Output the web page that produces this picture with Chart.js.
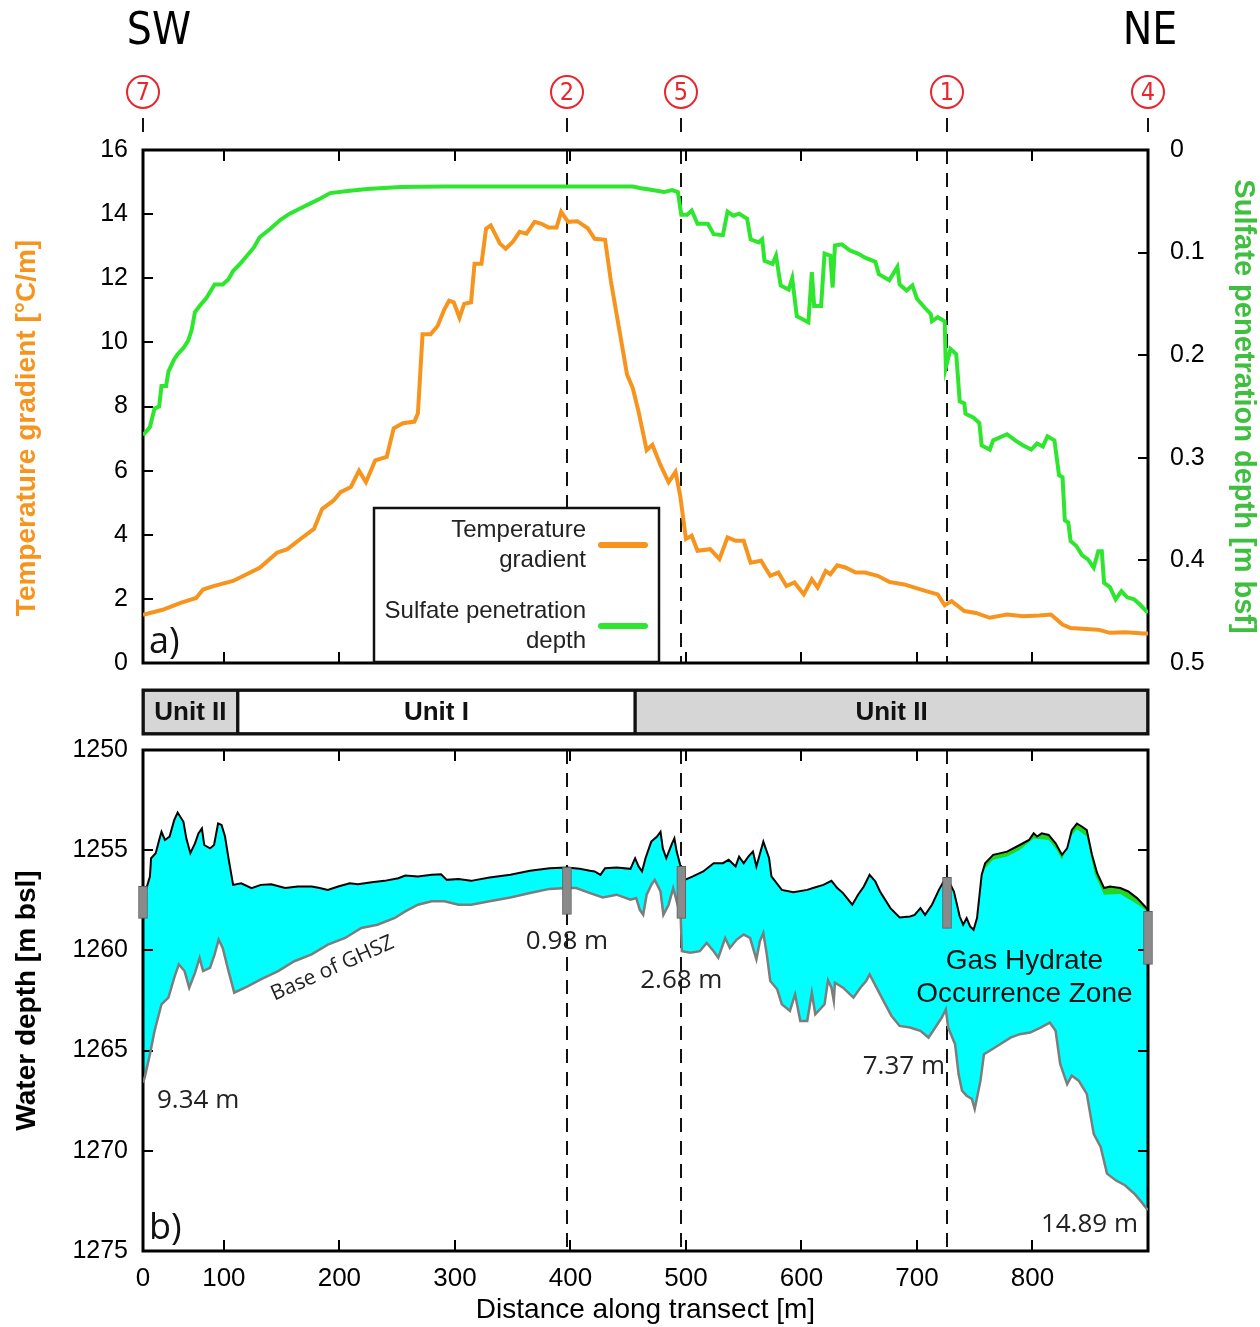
<!DOCTYPE html>
<html lang="en">
<head>
<meta charset="UTF-8">
<title>Transect profile</title>
<script src="https://cdn.jsdelivr.net/npm/chart.js"></script>
<style>
    body { margin: 0; background: #fff; }
    #wrap { position: relative; width: 1260px; height: 1327px; }
    #wrap canvas { position: absolute; left: 0; }
</style>
</head>
<body>
<div id="wrap">
    <canvas id="topChart" width="1260" height="700" style="top:0"></canvas>
    <canvas id="unitChart" width="1260" height="55" style="top:685px"></canvas>
    <canvas id="depthChart" width="1260" height="607" style="top:720px"></canvas>
</div>
<script>
// ---- data ----
// x axis: the left frame edge sits at ~30 m but is labelled "0" in the original
var xTickValues = [30, 100, 200, 300, 400, 500, 600, 700, 800];
var xTickLabels = ['0', '100', '200', '300', '400', '500', '600', '700', '800'];

var siteNames = ['7', '2', '5', '1', '4'];
var siteDistance = [30, 397, 496, 726, 900];
var coreTop = [1256.8, 1255.85, 1255.8, 1256.35, 1258.05];
var coreBottom = [1258.4, 1258.2, 1258.4, 1258.9, 1260.7];
var ghszThickness = [9.34, 0.98, 2.68, 7.37, 14.89];

var tempDist = [30, 47, 62, 76, 82, 91, 108, 131, 146, 155, 166, 178, 185, 195, 201, 210, 217, 223, 231, 241, 247, 255, 265, 268, 272, 279, 285, 291, 295, 299, 304, 308, 314, 317, 323, 327, 331, 339, 344, 350, 356, 362, 369, 375, 381, 388, 392, 398, 406, 415, 421, 430, 435, 442, 449, 454, 459, 466, 471, 478, 485, 491, 495, 500, 505, 510, 521, 529, 536, 543, 550, 556, 565, 573, 580, 587, 594, 602, 609, 614, 621, 625, 631, 638, 647, 655, 666, 676, 689, 698, 708, 718, 724, 730, 741, 751, 763, 778, 792, 806, 816, 826, 833, 846, 857, 867, 881, 896, 900];
var tempGrad = [1.50, 1.66, 1.87, 2.03, 2.29, 2.40, 2.56, 2.97, 3.44, 3.55, 3.86, 4.18, 4.80, 5.07, 5.33, 5.49, 6.00, 5.64, 6.32, 6.43, 7.32, 7.48, 7.53, 7.79, 10.25, 10.25, 10.51, 11.04, 11.30, 11.25, 10.77, 11.20, 11.25, 12.45, 12.45, 13.55, 13.65, 13.08, 12.92, 13.13, 13.45, 13.39, 13.76, 13.70, 13.58, 13.58, 14.07, 13.76, 13.78, 13.56, 13.23, 13.20, 11.92, 10.46, 9.00, 8.57, 7.84, 6.64, 6.80, 6.17, 5.64, 5.96, 5.23, 3.87, 3.97, 3.50, 3.55, 3.24, 3.92, 3.81, 3.81, 3.13, 3.19, 2.72, 2.82, 2.40, 2.51, 2.14, 2.61, 2.35, 2.87, 2.77, 3.05, 2.98, 2.82, 2.82, 2.72, 2.53, 2.45, 2.35, 2.24, 2.14, 1.80, 1.93, 1.62, 1.56, 1.41, 1.51, 1.46, 1.48, 1.51, 1.20, 1.09, 1.06, 1.04, 0.94, 0.96, 0.92, 0.92];

var sulfDist = [30, 36, 40, 44, 46, 50, 52, 57, 60, 65, 69, 72, 75, 79, 85, 92, 99, 104, 108, 114, 120, 126, 131, 140, 149, 157, 166, 175, 184, 192, 207, 224, 253, 290, 454, 460, 471, 481, 488, 493, 496, 501, 505, 510, 519, 524, 532, 536, 541, 546, 553, 556, 563, 566, 568, 575, 578, 582, 589, 592, 596, 601, 606, 609, 611, 617, 620, 625, 627, 629, 635, 642, 649, 655, 664, 667, 676, 683, 685, 691, 696, 700, 707, 712, 713, 718, 724, 725, 729, 734, 737, 741, 742, 749, 754, 756, 763, 766, 778, 785, 792, 799, 804, 809, 813, 819, 823, 826, 828, 831, 833, 838, 843, 848, 853, 857, 860, 862, 867, 872, 877, 882, 888, 893, 898, 900];
var sulfDepth = [0.278, 0.270, 0.252, 0.250, 0.230, 0.230, 0.216, 0.204, 0.199, 0.193, 0.186, 0.176, 0.158, 0.152, 0.144, 0.131, 0.131, 0.126, 0.118, 0.111, 0.103, 0.095, 0.085, 0.077, 0.068, 0.062, 0.057, 0.052, 0.047, 0.042, 0.040, 0.038, 0.036, 0.0356, 0.0356, 0.037, 0.039, 0.041, 0.039, 0.041, 0.063, 0.063, 0.059, 0.072, 0.072, 0.082, 0.083, 0.060, 0.064, 0.062, 0.067, 0.087, 0.090, 0.087, 0.108, 0.111, 0.103, 0.132, 0.136, 0.125, 0.162, 0.165, 0.168, 0.119, 0.152, 0.152, 0.101, 0.103, 0.134, 0.093, 0.092, 0.098, 0.101, 0.105, 0.109, 0.121, 0.127, 0.114, 0.131, 0.137, 0.132, 0.145, 0.154, 0.160, 0.167, 0.163, 0.167, 0.212, 0.194, 0.199, 0.245, 0.247, 0.257, 0.261, 0.266, 0.288, 0.292, 0.283, 0.277, 0.283, 0.288, 0.292, 0.286, 0.289, 0.279, 0.283, 0.317, 0.319, 0.361, 0.363, 0.381, 0.386, 0.395, 0.399, 0.407, 0.391, 0.391, 0.422, 0.426, 0.438, 0.430, 0.436, 0.438, 0.443, 0.449, 0.451];

var seaDist = [30, 33, 36, 37, 41, 44, 46, 49, 53, 57, 60, 65, 67.5, 71, 75, 78, 81, 83, 88, 91.5, 95, 98, 101, 104, 108, 115, 124, 132, 141, 153, 164, 176, 183, 190, 199, 209, 216, 228, 239, 251, 257, 268, 280, 288, 293, 303, 314, 330, 348, 365, 382, 397, 408, 417, 421, 426, 430, 440, 452, 456, 459, 462, 465, 470, 475, 478, 480, 483, 488, 490, 492, 495, 499, 506, 515, 524, 532, 537, 543, 546, 550, 554, 558, 561, 567, 572, 574, 583, 593, 605, 610, 619, 626, 631, 636, 644, 649, 654, 659, 664, 668, 677, 685, 694, 698, 703, 707, 713, 719, 723, 727, 732, 737, 740, 743, 746, 749, 752, 756, 759, 766, 778, 789, 797, 801, 804, 808, 814, 820, 825.5, 830, 834, 838.5, 843, 847, 851.5, 856, 862, 867, 876, 883, 890.5, 896, 900];
var seaDepth = [1257.0, 1256.89, 1256.31, 1255.4, 1255.15, 1254.49, 1254.08, 1254.49, 1254.32, 1253.5, 1253.12, 1253.58, 1254.41, 1255.15, 1254.66, 1254.16, 1253.91, 1254.74, 1254.91, 1254.74, 1253.66, 1253.74, 1254.32, 1255.4, 1256.73, 1256.65, 1256.89, 1256.73, 1256.7, 1256.89, 1256.81, 1256.81, 1256.89, 1256.98, 1256.81, 1256.65, 1256.7, 1256.6, 1256.53, 1256.4, 1256.26, 1256.31, 1256.23, 1256.2, 1256.48, 1256.44, 1256.53, 1256.36, 1256.23, 1256.03, 1255.9, 1255.86, 1255.93, 1256.03, 1256.06, 1256.23, 1255.9, 1255.86, 1255.93, 1255.4, 1255.81, 1256.06, 1255.4, 1254.57, 1254.32, 1254.08, 1254.91, 1255.4, 1254.66, 1254.41, 1255.07, 1255.73, 1256.48, 1256.31, 1256.06, 1255.65, 1255.65, 1255.48, 1255.81, 1255.32, 1255.65, 1255.32, 1255.07, 1255.81, 1254.57, 1255.4, 1256.31, 1256.98, 1257.1, 1256.98, 1256.89, 1256.73, 1256.53, 1256.89, 1257.14, 1257.72, 1257.22, 1256.81, 1256.23, 1256.56, 1257.06, 1257.89, 1258.36, 1258.31, 1258.23, 1257.89, 1258.23, 1257.72, 1256.98, 1256.56, 1256.48, 1257.06, 1258.31, 1258.72, 1258.39, 1258.8, 1258.97, 1258.39, 1256.23, 1255.65, 1255.23, 1255.07, 1254.74, 1254.49, 1254.16, 1254.32, 1254.16, 1254.24, 1254.66, 1255.23, 1254.91, 1254.0, 1253.67, 1253.83, 1254.0, 1255.23, 1256.15, 1256.89, 1256.81, 1256.89, 1257.06, 1257.39, 1257.72, 1257.97];

var ghszDist = [30, 31.5, 36, 40, 46, 52, 57, 61, 66, 70, 75, 79, 82, 88, 92, 95.5, 99, 104, 109, 121, 132, 147, 161, 176, 190, 205, 219, 233, 248, 257, 268, 280, 291, 303, 314, 330, 348, 365, 382, 397, 405, 417, 428, 440, 452, 457, 460, 463, 466, 470, 473, 478, 480.5, 485, 489, 492, 495.5, 496.5, 504, 512, 518, 524, 528, 534, 538, 544, 550, 555.5, 561, 564, 567, 570, 573, 579, 583, 590, 594.5, 599, 605, 609, 612, 620, 623, 626, 628, 629, 636, 645, 651, 656, 659, 665, 671, 678, 685, 694, 703, 710, 714, 721.5, 725, 727, 733, 736, 739, 743, 747.5, 750, 755, 758, 763, 772, 781, 789, 798, 807, 815, 820, 824, 830, 834, 840, 847, 853, 859, 864.5, 872, 880, 888, 893, 900];
var ghszDepth = [1266.6, 1266.34, 1265.18, 1264.02, 1262.69, 1262.36, 1261.37, 1260.7, 1261.03, 1261.86, 1261.12, 1260.37, 1261.03, 1260.87, 1260.2, 1259.46, 1259.88, 1261.03, 1262.11, 1261.78, 1261.45, 1261.03, 1260.54, 1260.2, 1259.71, 1259.38, 1258.88, 1258.72, 1258.38, 1258.05, 1257.72, 1257.55, 1257.55, 1257.72, 1257.72, 1257.55, 1257.36, 1257.14, 1256.93, 1256.89, 1256.89, 1257.14, 1257.36, 1257.22, 1257.47, 1257.39, 1257.97, 1258.22, 1257.22, 1256.73, 1256.48, 1257.06, 1258.22, 1257.72, 1256.89, 1257.55, 1258.38, 1260.04, 1260.12, 1260.04, 1259.63, 1260.04, 1260.37, 1259.38, 1259.88, 1259.46, 1259.21, 1259.38, 1260.45, 1259.54, 1259.13, 1260.2, 1261.53, 1261.94, 1262.69, 1263.02, 1262.19, 1263.52, 1263.52, 1262.11, 1263.19, 1262.69, 1261.49, 1261.86, 1262.52, 1261.61, 1261.86, 1262.36, 1261.86, 1261.53, 1261.2, 1261.86, 1262.52, 1263.27, 1263.77, 1263.85, 1264.01, 1264.35, 1264.01, 1263.35, 1262.94, 1263.85, 1264.68, 1266.17, 1267.0, 1267.25, 1267.41, 1267.91, 1266.5, 1265.18, 1265.01, 1264.68, 1264.35, 1264.18, 1264.1, 1263.85, 1263.6, 1264.01, 1265.67, 1266.67, 1266.25, 1266.5, 1267.16, 1269.15, 1269.81, 1271.14, 1271.47, 1271.72, 1272.13, 1272.46, 1272.96];

// lower edge of the green sulfate band under the seafloor (only visible NE)
var bandDist = [756, 759, 766, 778, 789, 801, 814, 821, 825.5, 834, 838.5, 847, 854, 862, 876, 890.5, 900];
var bandDepth = [1256.23, 1255.9, 1255.48, 1255.32, 1254.99, 1254.41, 1254.49, 1254.99, 1255.48, 1254.24, 1253.95, 1254.32, 1256.23, 1257.22, 1257.19, 1257.69, 1258.08];

var unitNames = ['Unit II', 'Unit I', 'Unit II'];
var unitStart = [30, 112, 456];
var unitEnd = [112, 456, 900];

// ---- styling ----
var ORANGE = '#f7941d';
var GREEN = '#2ee62e';
var RED = '#e8262d';
var SANS = "'Liberation Sans', Arial, sans-serif";
var NARROW = "'Liberation Sans Narrow', 'DejaVu Sans Condensed', 'Liberation Sans', sans-serif";
var OPEN = "'Open Sans', 'DejaVu Sans', sans-serif";

Chart.defaults.font.family = SANS;
Chart.defaults.color = '#000';

function pts(xs, ys) {
    return xs.map(function (x, i) { return { x: x, y: ys[i] }; });
}

function line(ctx, x1, y1, x2, y2) {
    ctx.beginPath();
    ctx.moveTo(x1, y1);
    ctx.lineTo(x2, y2);
    ctx.stroke();
}

// dashed site lines, drawn first so fills and curves cover them
var siteLines = {
    id: 'siteLines',
    beforeDraw: function (chart) {
        var a = chart.chartArea, x = chart.scales.x, ctx = chart.ctx;
        ctx.save();
        ctx.strokeStyle = '#111';
        ctx.lineWidth = 2;
        ctx.setLineDash([14, 9]);
        siteDistance.forEach(function (d) {
            if (d <= x.min || d >= x.max) return;
            var px = Math.round(x.getPixelForValue(d));
            line(ctx, px, a.top, px, a.bottom);
        });
        ctx.restore();
    }
};

// black frame with inward ticks
var frame = {
    id: 'frame',
    beforeDatasetsDraw: function (chart, args, opts) {
        var a = chart.chartArea, ctx = chart.ctx, x = chart.scales.x;
        ctx.save();
        ctx.strokeStyle = '#000';
        ctx.lineWidth = 2;
        xTickValues.forEach(function (v) {
            if (v <= x.min || v >= x.max) return;
            var px = Math.round(x.getPixelForValue(v));
            line(ctx, px, a.top, px, a.top + 11);
            line(ctx, px, a.bottom, px, a.bottom - 11);
        });
        var yl = chart.scales[opts.left];
        yl.ticks.forEach(function (t) {
            if (t.value <= yl.min || t.value >= yl.max) return;
            var py = Math.round(yl.getPixelForValue(t.value));
            line(ctx, a.left, py, a.left + 10, py);
        });
        var yr = chart.scales[opts.right];
        yr.ticks.forEach(function (t) {
            if (t.value <= yr.min || t.value >= yr.max) return;
            var py = Math.round(yr.getPixelForValue(t.value));
            line(ctx, a.right, py, a.right - 10, py);
        });
        ctx.lineWidth = 3;
        ctx.strokeRect(a.left, a.top, a.right - a.left, a.bottom - a.top);
        ctx.restore();
    }
};

// site circles, SW/NE, left title, legend box and panel letter for the top panel
var topDecor = {
    id: 'topDecor',
    afterDraw: function (chart) {
        var a = chart.chartArea, x = chart.scales.x, ctx = chart.ctx;
        ctx.save();
        ctx.fillStyle = '#000';
        ctx.font = '44px ' + NARROW;
        ctx.textAlign = 'center';
        ctx.textBaseline = 'middle';
        ctx.fillText('SW', 159, 33);
        ctx.fillText('NE', 1150, 33);

        siteNames.forEach(function (n, i) {
            var px = Math.round(x.getPixelForValue(siteDistance[i]));
            ctx.strokeStyle = RED;
            ctx.lineWidth = 2;
            ctx.beginPath();
            ctx.arc(px, 92, 16, 0, Math.PI * 2);
            ctx.stroke();
            ctx.fillStyle = RED;
            ctx.font = '25px ' + NARROW;
            ctx.fillText(n, px, 93);
            ctx.strokeStyle = '#111';
            line(ctx, px, 118, px, 132);
        });

        // left axis title (sits a little below the axis centre in the original)
        ctx.save();
        ctx.translate(27, 428);
        ctx.rotate(-Math.PI / 2);
        ctx.fillStyle = ORANGE;
        ctx.font = 'bold 28px ' + SANS;
        ctx.fillText('Temperature gradient [°C/m]', 0, 0);
        ctx.restore();

        // legend
        var lx = 374, ly = 508, lw = 285, lh = 154;
        ctx.fillStyle = '#fff';
        ctx.fillRect(lx, ly, lw, lh);
        ctx.strokeStyle = '#111';
        ctx.lineWidth = 2.5;
        ctx.strokeRect(lx, ly, lw, lh);
        var entries = [
            { lines: ['Temperature', 'gradient'], color: chart.data.datasets[0].borderColor },
            { lines: ['Sulfate penetration', 'depth'], color: chart.data.datasets[1].borderColor }
        ];
        ctx.font = '24px ' + SANS;
        ctx.textAlign = 'right';
        entries.forEach(function (e, i) {
            var cy = ly + 37 + i * 81;
            ctx.fillStyle = '#222';
            ctx.fillText(e.lines[0], lx + 212, cy - 15);
            ctx.fillText(e.lines[1], lx + 212, cy + 15);
            ctx.strokeStyle = e.color;
            ctx.lineWidth = 6;
            ctx.lineCap = 'round';
            line(ctx, lx + 227, cy, lx + 271, cy);
        });

        ctx.fillStyle = '#111';
        ctx.textAlign = 'left';
        ctx.font = '36px ' + OPEN;
        ctx.fillText('a)', a.left + 6, a.bottom - 20);
        ctx.restore();
    }
};

// text labels in the lower panel
var depthDecor = {
    id: 'depthDecor',
    afterDatasetsDraw: function (chart) {
        var a = chart.chartArea, x = chart.scales.x, y = chart.scales.y, ctx = chart.ctx;
        var place = [
            { dx: 14, align: 'left', depth: 1267.5 },
            { dx: 0, align: 'center', depth: 1259.55 },
            { dx: 0, align: 'center', depth: 1261.5 },
            { dx: -2, align: 'right', depth: 1265.8 },
            { dx: -10, align: 'right', depth: 1273.7 }
        ];
        ctx.save();
        ctx.fillStyle = '#222';
        ctx.textBaseline = 'middle';
        ctx.font = '26px ' + OPEN;
        ghszThickness.forEach(function (t, i) {
            var p = place[i];
            ctx.textAlign = p.align;
            ctx.fillText(t.toFixed(2) + ' m', x.getPixelForValue(siteDistance[i]) + p.dx, y.getPixelForValue(p.depth));
        });

        ctx.save();
        ctx.translate(x.getPixelForValue(194), y.getPixelForValue(1260.9));
        ctx.rotate(-24 * Math.PI / 180);
        ctx.textAlign = 'center';
        ctx.font = '21px ' + OPEN;
        ctx.fillText('Base of GHSZ', 0, 0);
        ctx.restore();

        ctx.fillStyle = '#111';
        ctx.textAlign = 'center';
        ctx.font = '28px ' + SANS;
        ctx.fillText('Gas Hydrate', x.getPixelForValue(793), y.getPixelForValue(1260.55));
        ctx.fillText('Occurrence Zone', x.getPixelForValue(793), y.getPixelForValue(1262.2));

        ctx.textAlign = 'left';
        ctx.font = '36px ' + OPEN;
        ctx.fillText('b)', a.left + 6, a.bottom - 22);
        ctx.restore();
    }
};

var unitLabels = {
    id: 'unitLabels',
    afterDatasetsDraw: function (chart) {
        var ctx = chart.ctx, a = chart.chartArea;
        ctx.save();
        ctx.fillStyle = '#111';
        ctx.font = 'bold 26px ' + SANS;
        ctx.textAlign = 'center';
        ctx.textBaseline = 'middle';
        chart.getDatasetMeta(0).data.forEach(function (bar, i) {
            ctx.fillText(unitNames[i], (bar.x + bar.base) / 2, bar.y + 1);
        });
        ctx.lineWidth = 3;
        ctx.strokeStyle = '#111';
        ctx.strokeRect(a.left, a.top, a.right - a.left, a.bottom - a.top);
        ctx.restore();
    }
};

var tickFont = { size: 25 };
var plainLabel = function (v) { return String(v); };

// ---- top panel ----
new Chart(document.getElementById('topChart'), {
    type: 'line',
    data: {
        datasets: [{
            label: 'Temperature gradient',
            data: pts(tempDist, tempGrad),
            yAxisID: 'y',
            borderColor: ORANGE,
            borderWidth: 4,
            pointRadius: 0,
            tension: 0
        }, {
            label: 'Sulfate penetration depth',
            data: pts(sulfDist, sulfDepth),
            yAxisID: 'y2',
            borderColor: GREEN,
            borderWidth: 4,
            pointRadius: 0,
            tension: 0
        }]
    },
    options: {
        responsive: false,
        animation: false,
        events: [],
        layout: { padding: { top: 150, bottom: 23, left: 0, right: 0 } },
        plugins: { legend: { display: false }, tooltip: { enabled: false }, frame: { left: 'y', right: 'y2' } },
        scales: {
            x: { type: 'linear', min: 30, max: 900, display: false },
            y: {
                position: 'left', min: 0, max: 16,
                ticks: { stepSize: 2, font: tickFont, padding: 15, callback: plainLabel },
                grid: { display: false, drawTicks: false },
                border: { display: false },
                afterFit: function (s) { s.width = 143; }
            },
            y2: {
                position: 'right', min: 0, max: 0.5, reverse: true,
                ticks: { stepSize: 0.1, font: tickFont, padding: 22, callback: function (v) { return String(+v.toFixed(1)); } },
                grid: { display: false, drawTicks: false },
                border: { display: false },
                title: { display: true, text: 'Sulfate penetration depth [m bsf]', color: '#3fbf3f', font: { size: 29, weight: 'bold' }, padding: { top: 0, bottom: 0 } },
                afterFit: function (s) { s.width = 112; }
            }
        }
    },
    plugins: [siteLines, frame, topDecor]
});

// ---- lithology units strip ----
new Chart(document.getElementById('unitChart'), {
    type: 'bar',
    data: {
        labels: ['units'],
        datasets: [{
            label: 'Units',
            data: unitStart.map(function (s, i) { return { x: [s, unitEnd[i]], y: 'units' }; }),
            backgroundColor: unitNames.map(function (n) { return n === 'Unit I' ? '#ffffff' : '#d6d6d6'; }),
            borderColor: '#111',
            borderWidth: 2,
            borderSkipped: false,
            barPercentage: 1,
            categoryPercentage: 1
        }]
    },
    options: {
        indexAxis: 'y',
        responsive: false,
        animation: false,
        events: [],
        layout: { padding: { left: 143, right: 112, top: 5, bottom: 6 } },
        plugins: { legend: { display: false }, tooltip: { enabled: false } },
        scales: {
            x: { type: 'linear', min: 30, max: 900, display: false },
            y: { display: false }
        }
    },
    plugins: [unitLabels]
});

// ---- water depth panel ----
new Chart(document.getElementById('depthChart'), {
    type: 'line',
    data: {
        datasets: [{
            label: 'Sulfate zone',
            data: pts(bandDist, bandDepth),
            borderWidth: 0,
            pointRadius: 0,
            fill: '+1',
            backgroundColor: '#22d622'
        }, {
            label: 'Seafloor',
            data: pts(seaDist, seaDepth),
            borderColor: '#000',
            borderWidth: 2,
            pointRadius: 0,
            fill: '+1',
            backgroundColor: '#00ffff'
        }, {
            label: 'Base of GHSZ',
            data: pts(ghszDist, ghszDepth),
            borderColor: '#7d7d7d',
            borderWidth: 2.5,
            pointRadius: 0,
            fill: false
        }, {
            type: 'bar',
            label: 'Cores',
            data: siteDistance.map(function (d, i) { return { x: d, y: [coreTop[i], coreBottom[i]] }; }),
            backgroundColor: '#8a8a8a',
            borderColor: '#5e5e5e',
            borderWidth: 1,
            borderSkipped: false,
            barThickness: 9,
            clip: false,
            order: -1
        }]
    },
    options: {
        responsive: false,
        animation: false,
        events: [],
        layout: { padding: { top: 28, right: 112, left: 0, bottom: 0 } },
        plugins: {
            legend: { display: false },
            tooltip: { enabled: false },
            filler: { drawTime: 'beforeDatasetsDraw' },
            frame: { left: 'y', right: 'y' }
        },
        scales: {
            x: {
                type: 'linear', min: 30, max: 900, offset: false,
                afterBuildTicks: function (s) { s.ticks = xTickValues.map(function (v) { return { value: v }; }); },
                ticks: { font: { size: 26 }, padding: 12, autoSkip: false, maxRotation: 0, callback: function (v, i) { return xTickLabels[i]; } },
                grid: { display: false, drawTicks: false },
                border: { display: false },
                title: { display: true, text: 'Distance along transect [m]', font: { size: 28 }, padding: { top: 0, bottom: 0 } },
                afterFit: function (s) { s.height = 76; }
            },
            y: {
                position: 'left', min: 1250, max: 1275, reverse: true,
                ticks: { stepSize: 5, font: tickFont, padding: 15, callback: plainLabel },
                grid: { display: false, drawTicks: false },
                border: { display: false },
                title: { display: true, text: 'Water depth [m bsl]', font: { size: 28, weight: 'bold' }, padding: { top: 10, bottom: 10 } },
                afterFit: function (s) { s.width = 143; }
            }
        }
    },
    plugins: [siteLines, frame, depthDecor]
});
</script>
</body>
</html>
